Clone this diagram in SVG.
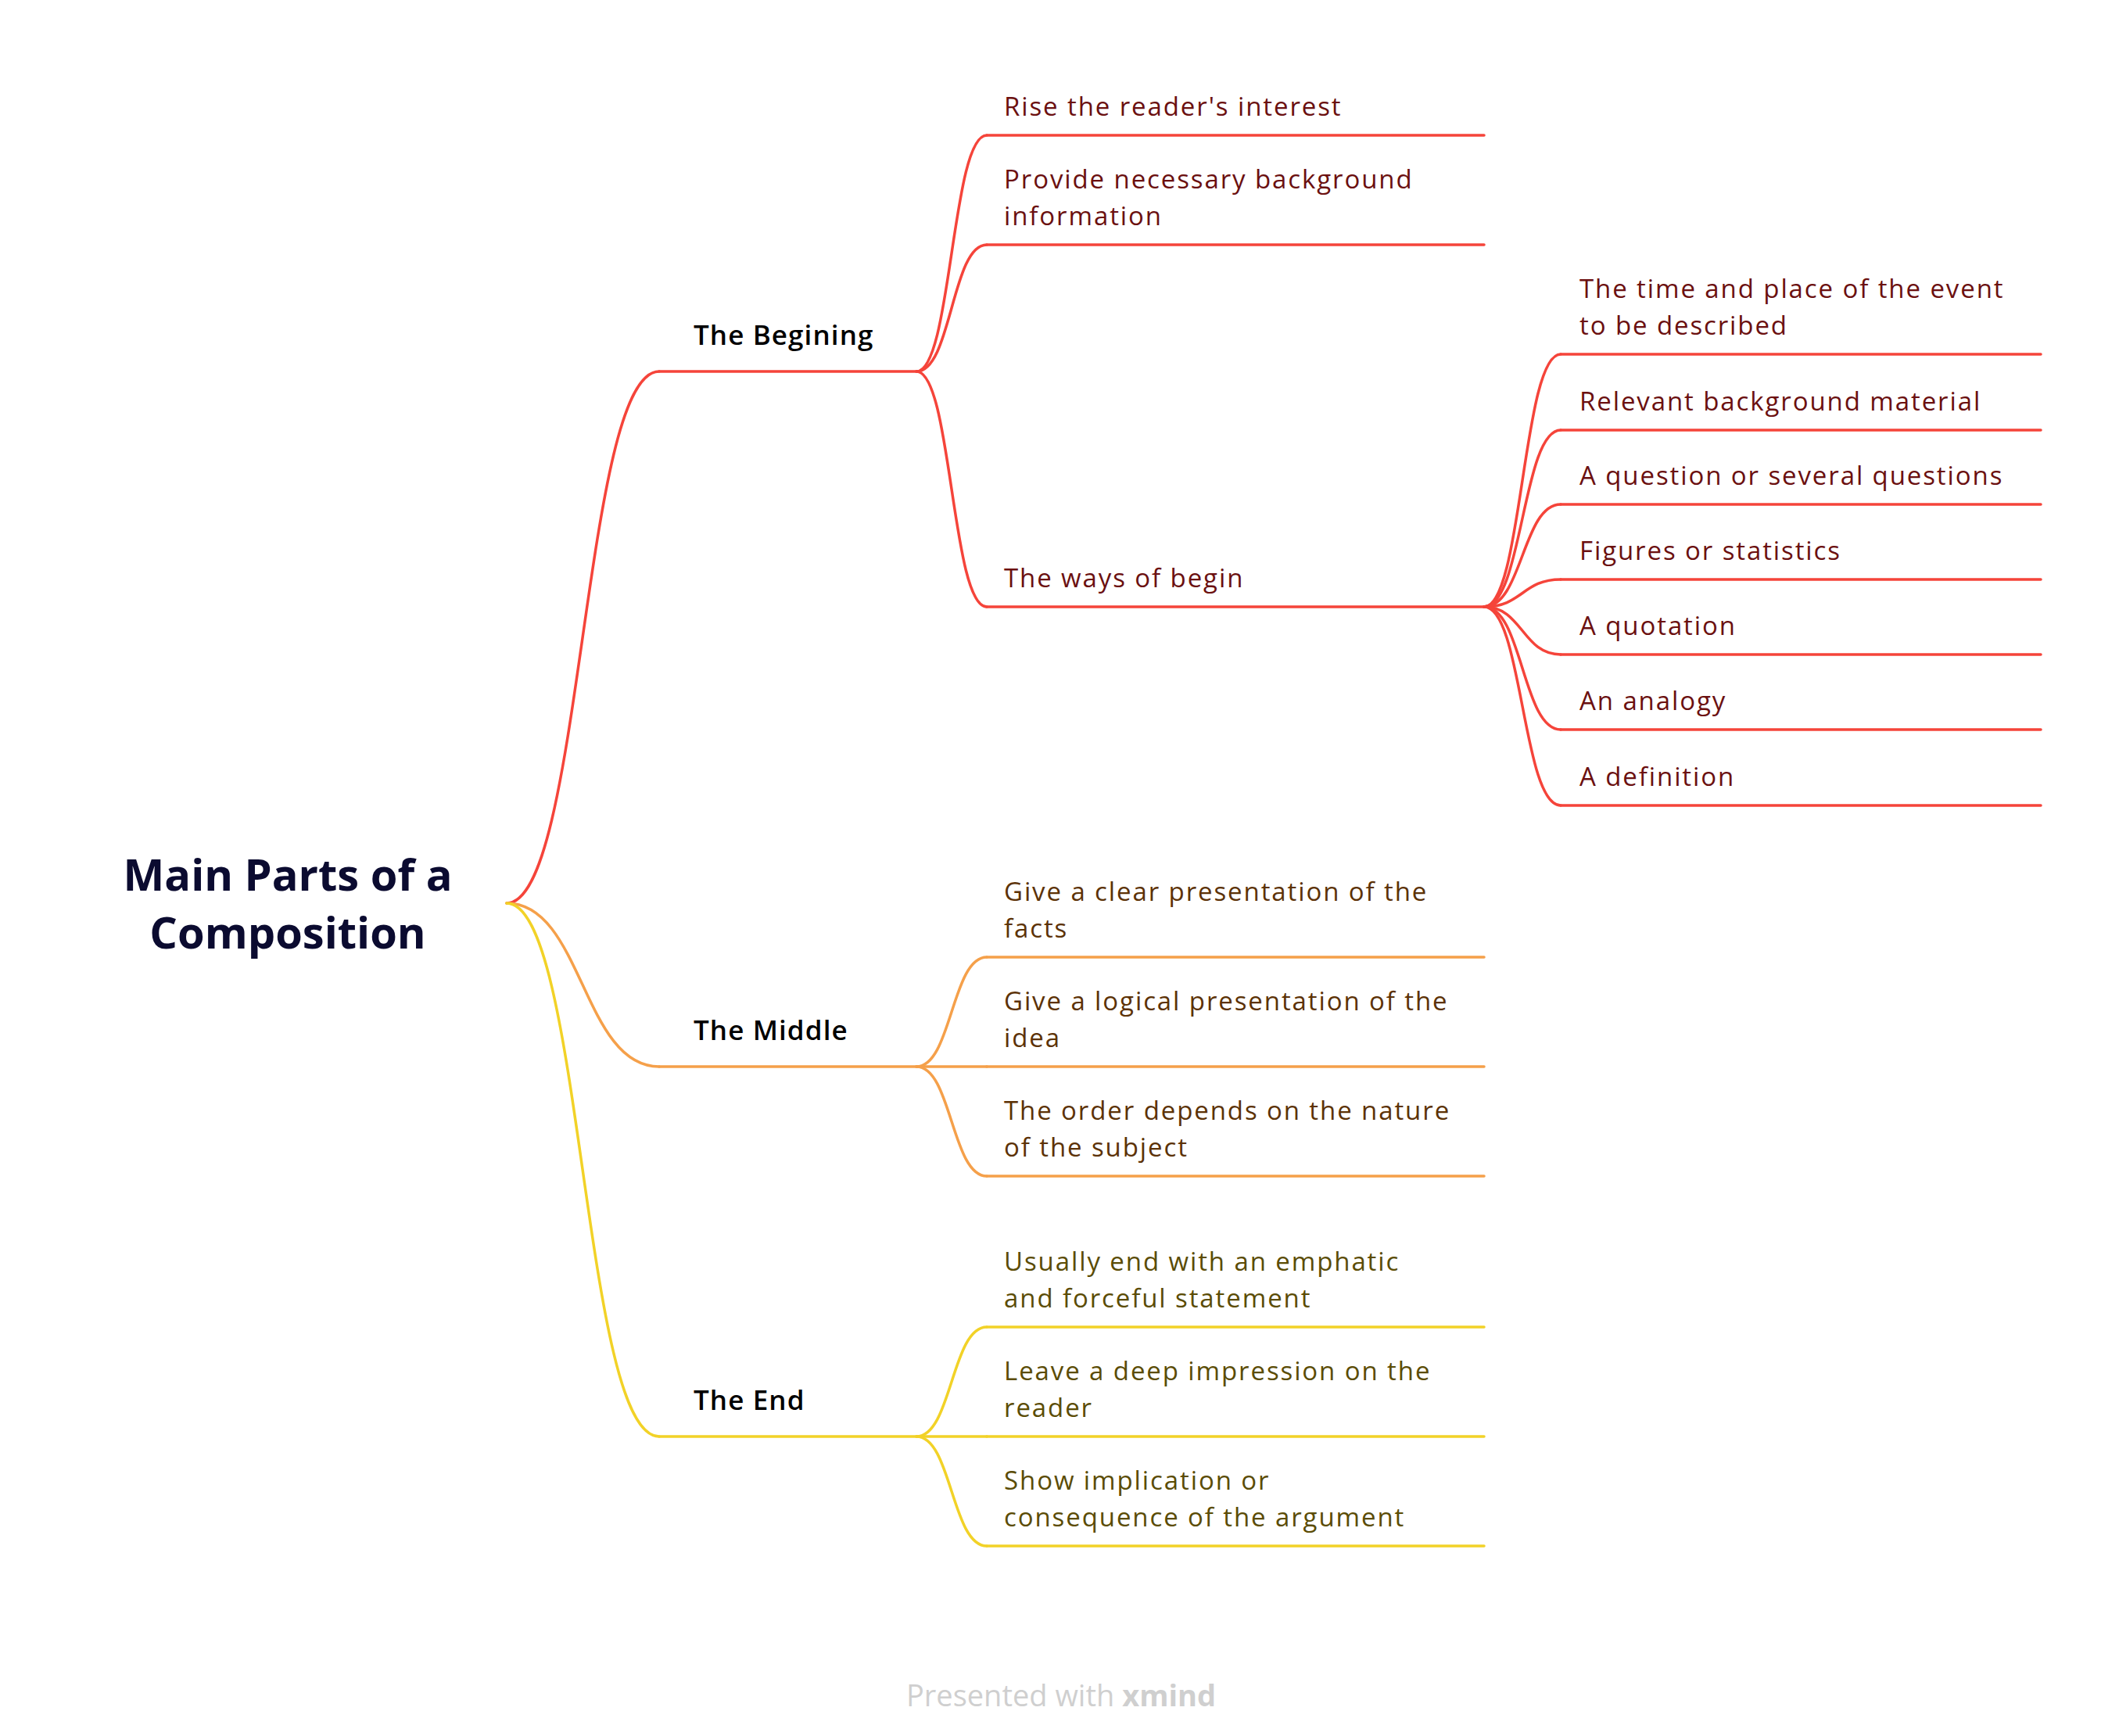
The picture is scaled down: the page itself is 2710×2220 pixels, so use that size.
<svg xmlns="http://www.w3.org/2000/svg" width="2710" height="2220" viewBox="0 0 2710 2220">
<style>
.bg{fill:#ffffff}
.c{fill:none;stroke-width:3.5;stroke-linecap:round}
.red{stroke:#f5443a}
.ora{stroke:#f5a04a}
.yel{stroke:#f2d227}
.root{font-family:"Open Sans","Liberation Sans",sans-serif;font-weight:700;font-size:56px;fill:#0b0b30}
.main{font-family:"Open Sans","Liberation Sans",sans-serif;font-weight:600;font-size:35px;letter-spacing:1.1px;fill:#000000}
.sub{font-family:"Open Sans","Liberation Sans",sans-serif;font-size:33px;letter-spacing:1.9px}
.tr{fill:#6b1010}
.to{fill:#5c3206}
.ty{fill:#5b4c05}
.wm{font-family:"Open Sans","Liberation Sans",sans-serif;font-size:38px;fill:#cfcfcf}
</style>
<rect class="bg" x="0" y="0" width="2710" height="2220"/>
<g id="connectors">
<path class="c red" d="M648,1155 C745,1155 745,475 843,475"/>
<path class="c ora" d="M648,1155 C745,1155 745,1364 843,1364"/>
<path class="c yel" d="M648,1155 C745,1155 745,1837 843,1837"/>
<path class="c red" d="M1172,475 C1217,475 1217,173 1262,173"/>
<path class="c red" d="M1172,475 C1217,475 1217,313 1262,313"/>
<path class="c red" d="M1172,475 C1217,475 1217,776 1262,776"/>
<path class="c red" d="M1898,776 C1947,776 1947,453 1996,453"/>
<path class="c red" d="M1898,776 C1947,776 1947,550 1996,550"/>
<path class="c red" d="M1898,776 C1947,776 1947,645 1996,645"/>
<path class="c red" d="M1898,776 C1947,776 1947,741 1996,741"/>
<path class="c red" d="M1898,776 C1947,776 1947,837 1996,837"/>
<path class="c red" d="M1898,776 C1947,776 1947,933 1996,933"/>
<path class="c red" d="M1898,776 C1947,776 1947,1030 1996,1030"/>
<path class="c ora" d="M1172,1364 C1217,1364 1217,1224 1262,1224"/>
<path class="c ora" d="M1172,1364 L1262,1364"/>
<path class="c ora" d="M1172,1364 C1217,1364 1217,1504 1262,1504"/>
<path class="c yel" d="M1172,1837 C1217,1837 1217,1697 1262,1697"/>
<path class="c yel" d="M1172,1837 L1262,1837"/>
<path class="c yel" d="M1172,1837 C1217,1837 1217,1977 1262,1977"/>
</g>
<g id="root">
<text class="root" x="368" y="1139" text-anchor="middle">Main Parts of a</text>
<text class="root" x="368" y="1213" text-anchor="middle">Composition</text>
</g>
<g id="begining">
<line class="c red" x1="843" y1="475" x2="1172" y2="475"/>
<text class="main" x="887" y="441">The Begining</text>
</g>
<g id="rise">
<line class="c red" x1="1262" y1="173" x2="1898" y2="173"/>
<text class="sub tr" x="1284" y="148">Rise the reader's interest</text>
</g>
<g id="provide">
<line class="c red" x1="1262" y1="313" x2="1898" y2="313"/>
<text class="sub tr" x="1284" y="241">Provide necessary background</text>
<text class="sub tr" x="1284" y="288">information</text>
</g>
<g id="ways">
<line class="c red" x1="1262" y1="776" x2="1898" y2="776"/>
<text class="sub tr" x="1284" y="751">The ways of begin</text>
</g>
<g id="time">
<line class="c red" x1="1996" y1="453" x2="2610" y2="453"/>
<text class="sub tr" x="2020" y="381">The time and place of the event</text>
<text class="sub tr" x="2020" y="428">to be described</text>
</g>
<g id="relevant">
<line class="c red" x1="1996" y1="550" x2="2610" y2="550"/>
<text class="sub tr" x="2020" y="525">Relevant background material</text>
</g>
<g id="question">
<line class="c red" x1="1996" y1="645" x2="2610" y2="645"/>
<text class="sub tr" x="2020" y="620">A question or several questions</text>
</g>
<g id="figures">
<line class="c red" x1="1996" y1="741" x2="2610" y2="741"/>
<text class="sub tr" x="2020" y="716">Figures or statistics</text>
</g>
<g id="quotation">
<line class="c red" x1="1996" y1="837" x2="2610" y2="837"/>
<text class="sub tr" x="2020" y="812">A quotation</text>
</g>
<g id="analogy">
<line class="c red" x1="1996" y1="933" x2="2610" y2="933"/>
<text class="sub tr" x="2020" y="908">An analogy</text>
</g>
<g id="definition">
<line class="c red" x1="1996" y1="1030" x2="2610" y2="1030"/>
<text class="sub tr" x="2020" y="1005">A definition</text>
</g>
<g id="middle">
<line class="c ora" x1="843" y1="1364" x2="1172" y2="1364"/>
<text class="main" x="887" y="1330">The Middle</text>
</g>
<g id="clear">
<line class="c ora" x1="1262" y1="1224" x2="1898" y2="1224"/>
<text class="sub to" x="1284" y="1152">Give a clear presentation of the</text>
<text class="sub to" x="1284" y="1199">facts</text>
</g>
<g id="logical">
<line class="c ora" x1="1262" y1="1364" x2="1898" y2="1364"/>
<text class="sub to" x="1284" y="1292">Give a logical presentation of the</text>
<text class="sub to" x="1284" y="1339">idea</text>
</g>
<g id="order">
<line class="c ora" x1="1262" y1="1504" x2="1898" y2="1504"/>
<text class="sub to" x="1284" y="1432">The order depends on the nature</text>
<text class="sub to" x="1284" y="1479">of the subject</text>
</g>
<g id="end">
<line class="c yel" x1="843" y1="1837" x2="1172" y2="1837"/>
<text class="main" x="887" y="1803">The End</text>
</g>
<g id="usually">
<line class="c yel" x1="1262" y1="1697" x2="1898" y2="1697"/>
<text class="sub ty" x="1284" y="1625">Usually end with an emphatic</text>
<text class="sub ty" x="1284" y="1672">and forceful statement</text>
</g>
<g id="leave">
<line class="c yel" x1="1262" y1="1837" x2="1898" y2="1837"/>
<text class="sub ty" x="1284" y="1765">Leave a deep impression on the</text>
<text class="sub ty" x="1284" y="1812">reader</text>
</g>
<g id="show">
<line class="c yel" x1="1262" y1="1977" x2="1898" y2="1977"/>
<text class="sub ty" x="1284" y="1905">Show implication or</text>
<text class="sub ty" x="1284" y="1952">consequence of the argument</text>
</g>
<g id="watermark">
<text class="wm" x="1357" y="2182" text-anchor="middle">Presented with <tspan font-weight="700">xmind</tspan></text>
</g>
</svg>
